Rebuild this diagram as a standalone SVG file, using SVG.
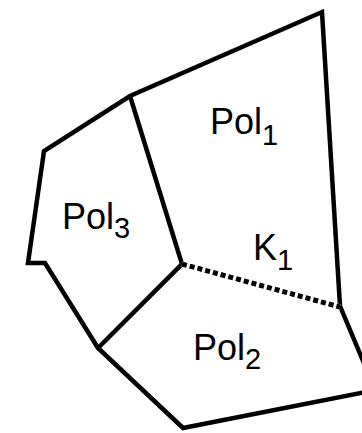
<svg xmlns="http://www.w3.org/2000/svg" width="362" height="433" viewBox="0 0 362 433">
<style>
.e{fill:none;stroke:#000;stroke-width:4.5;stroke-linejoin:miter;stroke-linecap:butt}
.t{font-family:"Liberation Sans",Arial,sans-serif;font-size:36px;fill:#000}
.s{font-size:29px}
</style>
<rect width="362" height="433" fill="#fff"/>
<g id="connectors">
<path class="e" d="M366,392 L183,428 L98,348 L45,263 L28,263 L44,151 L130,96 L322,12 L340,306 L366,368"/>
<path class="e" d="M130,96 L182,264 L98,348"/>
<line x1="182" y1="264" x2="340" y2="307" stroke="#fff" stroke-width="5.5"/>
<line x1="182" y1="264" x2="340" y2="307" stroke="#000" stroke-width="5" stroke-dasharray="5 3"/>
</g>
<g id="pol1"><text class="t" x="210" y="134">Pol<tspan class="s" dy="11">1</tspan></text></g>
<g id="pol3"><text class="t" x="62" y="229">Pol<tspan class="s" dy="9">3</tspan></text></g>
<g id="k1"><text class="t" x="253" y="260">K<tspan class="s" dy="10">1</tspan></text></g>
<g id="pol2"><text class="t" x="193" y="360">Pol<tspan class="s" dy="9">2</tspan></text></g>
</svg>
